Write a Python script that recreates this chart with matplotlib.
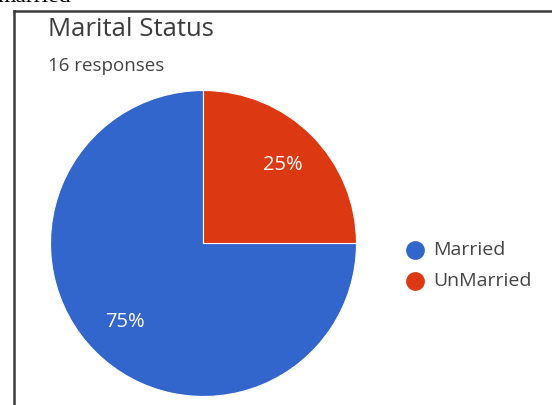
import matplotlib
matplotlib.use("Agg")
import matplotlib.pyplot as plt
from matplotlib.lines import Line2D

# Survey data
labels = ["Married", "UnMarried"]
shares = [75, 25]
colors = ["#3366CC", "#DC3912"]
title = "Marital Status"
subtitle = "16 responses"

W, H = 552, 405
fig = plt.figure(figsize=(W / 100, H / 100), dpi=100)
fig.patch.set_facecolor("white")

def fx(px):
    return px / W

def fy(py):
    return 1 - py / H

# Caption text above the frame (partly clipped at the top edge)
fig.text(fx(-3), fy(2.5), "married", family="Liberation Serif", fontsize=17,
         color="black", ha="left", va="baseline")

# Frame lines (left and top)
fig.add_artist(Line2D([fx(13.5), fx(13.5)], [fy(10.5), fy(410)], color="#3a3a3a",
                      lw=1.8, transform=fig.transFigure))
fig.add_artist(Line2D([fx(13.5), fx(560)], [fy(10.5), fy(10.5)], color="#3a3a3a",
                      lw=1.8, transform=fig.transFigure))

# Title and subtitle
fig.text(fx(48), fy(30), title, family="Open Sans", fontsize=18.5, color="#3c3c3c",
         ha="left", va="center")
fig.text(fx(48), fy(66), subtitle, family="Open Sans", fontsize=13.5, color="#444444",
         ha="left", va="center")

# Pie
cx, cy, r = 203.5, 243.5, 153
ax = fig.add_axes([fx(cx - r), fy(cy + r), 2 * r / W, 2 * r / H])
wedges, texts, autotexts = ax.pie(
    shares, colors=colors, startangle=90, counterclock=True,
    autopct="%d%%", pctdistance=0.73,
    wedgeprops=dict(edgecolor="white", linewidth=0.8),
    textprops=dict(color="white", family="Open Sans", fontsize=14.5, weight="medium"),
)
ax.set_xlim(-1, 1)
ax.set_ylim(-1, 1)
ax.set_aspect("equal")
ax.axis("off")

# Legend entries: coloured dot followed by the category name
legend_x, legend_y0, legend_dy = 415, 250, 31
for i, (lab, c) in enumerate(zip(labels, colors)):
    y = legend_y0 + i * legend_dy
    fig.add_artist(Line2D([fx(legend_x)], [fy(y)], marker="o", linestyle="none",
                          markersize=12.5, markerfacecolor=c, markeredgecolor=c,
                          transform=fig.transFigure))
    fig.text(fx(433), fy(y), lab, family="Open Sans", fontsize=14,
             color="#444444", ha="left", va="center")

fig.savefig("out.png", dpi=100)
